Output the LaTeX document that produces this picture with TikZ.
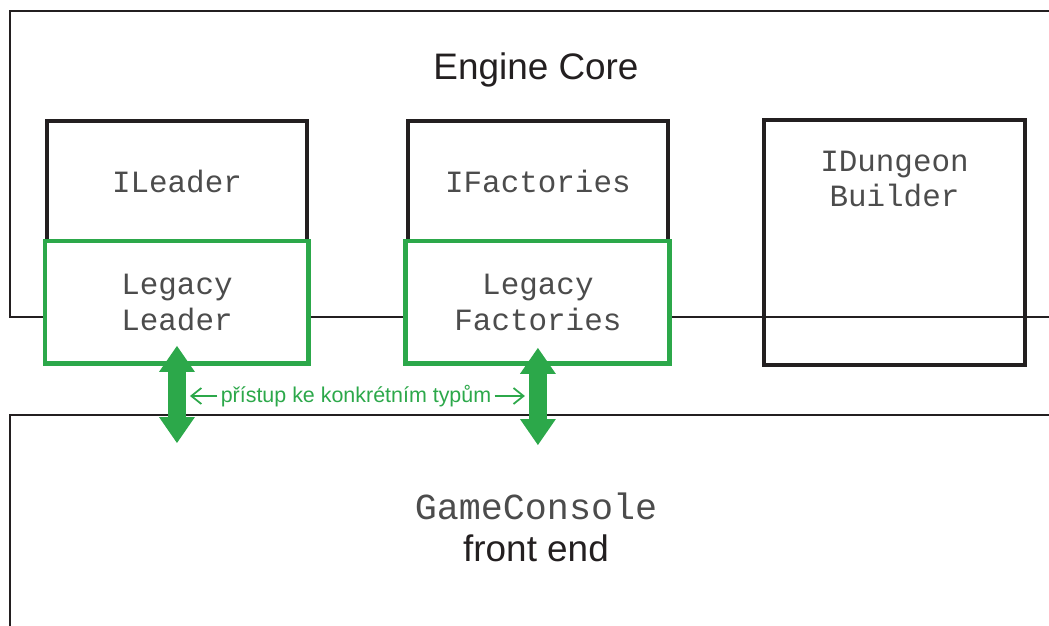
\documentclass[tikz,border=0pt]{standalone}
\usepackage{fontspec}
\setmainfont{Liberation Sans}
\newfontfamily\codefont{Liberation Mono}
\usetikzlibrary{positioning,arrows.meta}
\definecolor{legacygreen}{RGB}{44,168,74}
\definecolor{inkblack}{RGB}{35,31,32}
\tikzset{
    outerbox/.style={draw=inkblack, line width=0.8pt, minimum width=21.8cm,
    anchor=north west},
    codetext/.style={text=black!70, align=center,
    font=\codefont\fontsize{17.6}{20.2}\selectfont},
    ifacebox/.style={codetext, draw=inkblack, line width=2pt,
    minimum width=5.2cm, minimum height=2.4cm},
    legacybox/.style={codetext, draw=legacygreen, fill=white, line width=2.8pt,
    minimum width=5.28cm, minimum height=2.46cm, anchor=north},
    title/.style={text=inkblack, font=\fontsize{21}{25}\selectfont},
    consoletext/.style={text=black!70, font=\codefont\fontsize{20.9}{24}\selectfont},
    accesstext/.style={text=legacygreen, inner sep=2pt, font=\fontsize{12.2}{14}\selectfont},
    bigarrow/.style={legacygreen, line width=0.36cm,
    {Triangle[width=0.72cm,length=0.52cm,line width=0pt]}-{Triangle[width=0.72cm,length=0.52cm,line width=0pt]}},
    accessarrow/.style={legacygreen, line width=1pt,
    -{Straight Barb[length=0.2cm,width=0.32cm]}}
}
\begin{document}
\begin{tikzpicture}[x=0.02cm, y=-0.02cm, outer sep=0pt, node distance=0cm]
    \useasboundingbox (0,0) rectangle (1049,626);
    \clip (0,0) rectangle (1049,626);
    % engine core
    \node (core) [outerbox, minimum height=6.12cm] at (10,11) {};
    \node (coretitle) [title] at (536,70) {Engine Core};
    \node (ileader) [ifacebox, anchor=north west] at (47,121) {ILeader};
    \node (ifactories) [ifacebox, right=2.02cm of ileader] {IFactories};
    \node (dungeon) [ifacebox, minimum width=5.22cm, minimum height=4.9cm,
        anchor=north west] at (764,120) {};
    \node (dungeontxt) [codetext, inner sep=0pt, below=0.62cm of dungeon.north] {IDungeon\\Builder};
    \node (legleader) [legacybox] at (ileader.south) {Legacy\\Leader};
    \node (legfactories) [legacybox] at (ifactories.south) {Legacy\\Factories};
    % front end
    \node (console) [outerbox, minimum height=5cm] at (10,415) {};
    \node (gameconsole) [consoletext] at (536,506) {GameConsole};
    \node (frontend) [title] at (536,548) {front end};
    % access
    \coordinate (lup) at ([yshift=0.36cm]legleader.south);
    \coordinate (ldown) at ([yshift=-0.56cm]lup |- console.north);
    \coordinate (rup) at ([yshift=0.32cm]legfactories.south);
    \coordinate (rdown) at ([yshift=-0.6cm]rup |- console.north);
    \draw[bigarrow] (lup) -- (ldown);
    \draw[bigarrow] (rup) -- (rdown);
    \node (access) [accesstext] at (356,396) {přístup ke konkrétním typům};
    \draw[accessarrow] (access.west) -- ([xshift=0.26cm]access.west -| lup);
    \draw[accessarrow] (access.east) -- ([xshift=-0.26cm]access.east -| rup);
\end{tikzpicture}
\end{document}
